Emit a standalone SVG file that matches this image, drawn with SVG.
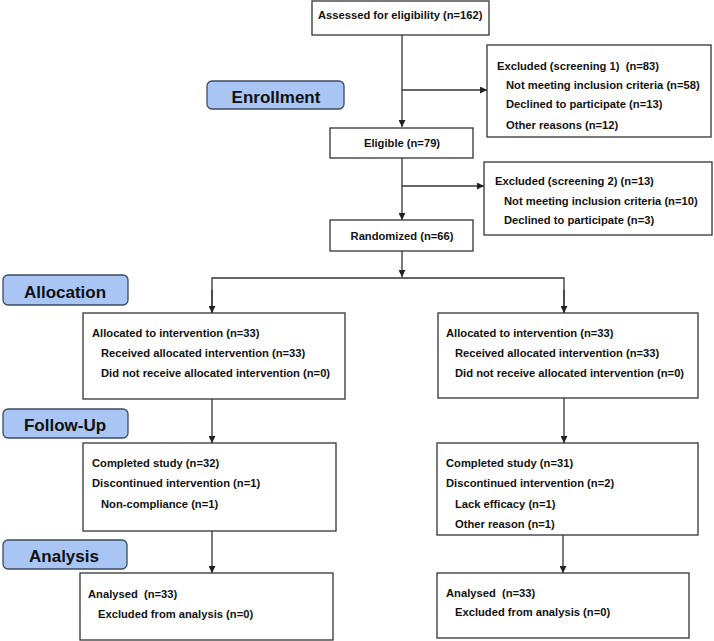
<svg xmlns="http://www.w3.org/2000/svg" width="714" height="641" viewBox="0 0 714 641">
<style>
.box{fill:#fff;stroke:#333;stroke-width:1.3}
.lab{fill:#a8c5f4;stroke:#3c4a5c;stroke-width:1.3}
.t{font-family:"Liberation Sans",Arial,sans-serif;font-weight:bold;font-size:11.2px;fill:#111;white-space:pre}
.h{font-family:"Liberation Sans",Arial,sans-serif;font-weight:bold;font-size:17px;fill:#111;text-anchor:middle}
.c{stroke:#333;stroke-width:1.3;fill:none}
</style>
<defs>
<marker id="ar" viewBox="0 0 10 10" refX="10" refY="5" markerWidth="7" markerHeight="7" markerUnits="userSpaceOnUse" orient="auto">
<path d="M0,0 L10,5 L0,10 z" fill="#222"/>
</marker>
</defs>
<g id="connectors">
<path class="c" d="M402,35 V127" marker-end="url(#ar)"/>
<path class="c" d="M402,90 H487" marker-end="url(#ar)"/>
<path class="c" d="M402,158 V220" marker-end="url(#ar)"/>
<path class="c" d="M402,186 H484" marker-end="url(#ar)"/>
<path class="c" d="M402,251 V277" marker-end="url(#ar)"/>
<path class="c" d="M212,313 V278 H564 V313"/>
<path class="c" d="M212,290 V313" marker-end="url(#ar)"/>
<path class="c" d="M564,290 V313" marker-end="url(#ar)"/>
<path class="c" d="M212,399 V443" marker-end="url(#ar)"/>
<path class="c" d="M564,398 V443" marker-end="url(#ar)"/>
<path class="c" d="M212,531 V573" marker-end="url(#ar)"/>
<path class="c" d="M563,535 V573" marker-end="url(#ar)"/>
</g>
<g id="lab-enrollment"><rect class="lab" x="207" y="81" width="137" height="28" rx="5"/><text class="h" x="276" y="103">Enrollment</text></g>
<g id="lab-allocation"><rect class="lab" x="3" y="275" width="125" height="30" rx="5"/><text class="h" x="65" y="298">Allocation</text></g>
<g id="lab-followup"><rect class="lab" x="3" y="409" width="125" height="29" rx="5"/><text class="h" x="65" y="431">Follow-Up</text></g>
<g id="lab-analysis"><rect class="lab" x="3" y="540" width="124" height="29" rx="5"/><text class="h" x="64" y="562">Analysis</text></g>
<g id="assessed"><rect class="box" x="312" y="1" width="177" height="34"/><text class="t" x="318" y="19">Assessed for eligibility (n=162)</text></g>
<g id="excluded1"><rect class="box" x="487" y="45" width="224" height="92"/>
<text class="t" x="497" y="70">Excluded (screening 1)  (n=83)</text>
<text class="t" x="506" y="89">Not meeting inclusion criteria (n=58)</text>
<text class="t" x="506" y="108">Declined to participate (n=13)</text>
<text class="t" x="506" y="129">Other reasons (n=12)</text></g>
<g id="eligible"><rect class="box" x="330" y="128" width="143" height="30"/><text class="t" x="402" y="147" text-anchor="middle">Eligible (n=79)</text></g>
<g id="excluded2"><rect class="box" x="484" y="162" width="228" height="73"/>
<text class="t" x="495" y="185">Excluded (screening 2) (n=13)</text>
<text class="t" x="504" y="205">Not meeting inclusion criteria (n=10)</text>
<text class="t" x="504" y="224">Declined to participate (n=3)</text></g>
<g id="randomized"><rect class="box" x="330" y="220" width="143" height="31"/><text class="t" x="402" y="240" text-anchor="middle">Randomized (n=66)</text></g>
<g id="alloc-left"><rect class="box" x="83" y="313" width="262" height="86"/>
<text class="t" x="92" y="337">Allocated to intervention (n=33)</text>
<text class="t" x="101" y="357">Received allocated intervention (n=33)</text>
<text class="t" x="101" y="377">Did not receive allocated intervention (n=0)</text></g>
<g id="alloc-right"><rect class="box" x="438" y="313" width="260" height="85"/>
<text class="t" x="446" y="337">Allocated to intervention (n=33)</text>
<text class="t" x="455" y="357">Received allocated intervention (n=33)</text>
<text class="t" x="455" y="377">Did not receive allocated intervention (n=0)</text></g>
<g id="follow-left"><rect class="box" x="83" y="443" width="253" height="88"/>
<text class="t" x="92" y="467">Completed study (n=32)</text>
<text class="t" x="92" y="487">Discontinued intervention (n=1)</text>
<text class="t" x="101" y="508">Non-compliance (n=1)</text></g>
<g id="follow-right"><rect class="box" x="437" y="443" width="261" height="92"/>
<text class="t" x="446" y="467">Completed study (n=31)</text>
<text class="t" x="446" y="487">Discontinued intervention (n=2)</text>
<text class="t" x="455" y="508">Lack efficacy (n=1)</text>
<text class="t" x="455" y="528">Other reason (n=1)</text></g>
<g id="analysis-left"><rect class="box" x="80" y="573" width="253" height="67"/>
<text class="t" x="88" y="598">Analysed  (n=33)</text>
<text class="t" x="98" y="618">Excluded from analysis (n=0)</text></g>
<g id="analysis-right"><rect class="box" x="437" y="573" width="252" height="65"/>
<text class="t" x="446" y="597">Analysed  (n=33)</text>
<text class="t" x="455" y="616">Excluded from analysis (n=0)</text></g>
</svg>
